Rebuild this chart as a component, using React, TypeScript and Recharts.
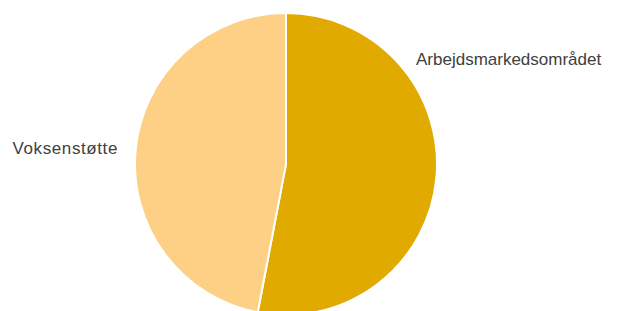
import { PieChart, Pie, Cell } from 'recharts';

const categories = ['Arbejdsmarkedsområdet', 'Voksenstøtte'];
const shares = [53, 47];
const colors = ['#E1AA00', '#FED086'];

const data = categories.map((name, i) => ({ name, value: shares[i] }));

// label offsets relative to the pie centre (labels sit outside, no leader lines)
const labelOffsets = [
  { dx: 130, dy: -105, anchor: 'start', spacing: 0 },
  { dx: -168, dy: -16, anchor: 'end', spacing: 0.6 },
];

function renderLabel(props: any) {
  const { cx, cy, index, name } = props;
  const o = labelOffsets[index];
  return (
    <text
      x={cx + o.dx}
      y={cy + o.dy}
      textAnchor={o.anchor}
      dominantBaseline="central"
      fill="#404040"
      fontSize={17}
      letterSpacing={o.spacing}
      fontFamily="'Liberation Sans', Arial, sans-serif"
    >
      {name}
    </text>
  );
}

export default function App() {
  return (
    <div style={{ position: 'fixed', top: 0, left: 0, width: 621, height: 311, background: '#fff' }}>
      <PieChart width={621} height={311} margin={{ top: 0, right: 0, bottom: 0, left: 0 }}>
        <Pie
          data={data}
          dataKey="value"
          nameKey="name"
          cx={286}
          cy={164}
          outerRadius={151}
          startAngle={90}
          endAngle={-270}
          stroke="#fff"
          strokeWidth={2}
          label={renderLabel}
          labelLine={false}
          isAnimationActive={false}
        >
          {data.map((d, i) => (
            <Cell key={d.name} fill={colors[i]} />
          ))}
        </Pie>
      </PieChart>
    </div>
  );
}
